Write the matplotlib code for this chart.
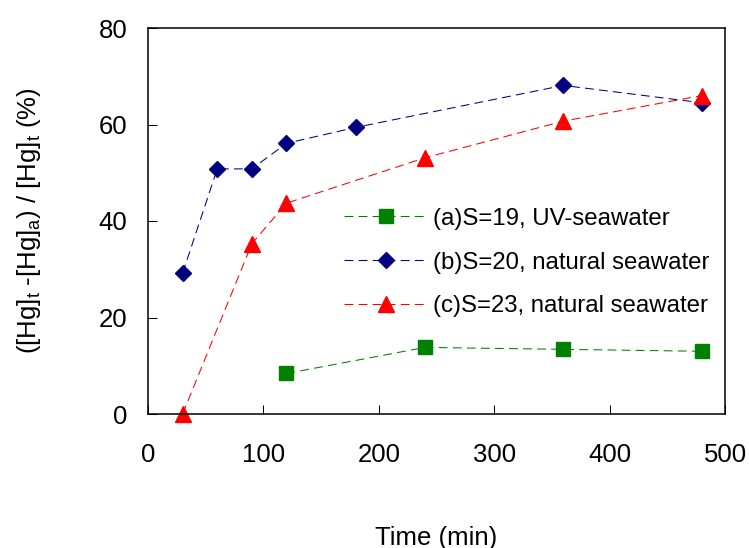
import matplotlib
matplotlib.use('Agg')
import matplotlib.pyplot as plt

plt.rcParams['font.family'] = ['Liberation Sans', 'DejaVu Sans']
plt.rcParams['mathtext.fontset'] = 'custom'
plt.rcParams['mathtext.rm'] = 'Liberation Sans'
plt.rcParams['mathtext.it'] = 'Liberation Sans:italic'

# data
time_a = [120, 240, 360, 480]
val_a = [8.4, 13.8, 13.4, 13.0]
time_b = [30, 60, 90, 120, 180, 360, 480]
val_b = [29.2, 50.8, 50.8, 56.1, 59.4, 68.1, 64.5]
time_c = [30, 90, 120, 240, 360, 480]
val_c = [0.0, 35.3, 43.7, 53.1, 60.7, 66.0]

labels = ['(a)S=19, UV-seawater', '(b)S=20, natural seawater', '(c)S=23, natural seawater']

fig = plt.figure(figsize=(7.49, 5.48), dpi=100)
ax = fig.add_axes([148 / 749, 1 - 414 / 548, 577 / 749, 386 / 548])

dash = (0, (8.5, 5))
ax.plot(time_a, val_a, ls=dash, lw=0.75, color='#008000', marker='s', ms=10,
        mfc='#008000', mec='#008000', label=labels[0], clip_on=False)
ax.plot(time_b, val_b, ls=dash, lw=0.75, color='#000080', marker='D', ms=8.5,
        mfc='#000080', mec='#000080', label=labels[1], clip_on=False)
ax.plot(time_c, val_c, ls=dash, lw=0.75, color='#FF0000', marker='^', ms=12,
        mfc='#FF0000', mec='#FF0000', label=labels[2], clip_on=False)

ax.set_xlim(0, 500)
ax.set_ylim(0, 80)
ax.set_xticks([0, 100, 200, 300, 400, 500])
ax.set_yticks([0, 20, 40, 60, 80])
ax.tick_params(direction='in', length=6.5, width=0.75, labelsize=18.5)
ax.tick_params(axis='x', pad=21)
ax.tick_params(axis='y', pad=15)
for s in ax.spines.values():
    s.set_linewidth(1.1)

ax.set_xlabel('Time (min)', fontsize=18.5, labelpad=42)
ax.set_ylabel(r'([Hg]$_\mathrm{t}$ -[Hg]$_\mathrm{a}$) / [Hg]$_\mathrm{t}$ (%)', fontsize=18.5, labelpad=40)

ax.legend(loc='upper left', bbox_to_anchor=(0.34, 0.534), frameon=False, fontsize=17.3,
          handlelength=3.45, handletextpad=0.25, labelspacing=0.9, borderpad=0, borderaxespad=0)

plt.savefig('out.png', dpi=100)
